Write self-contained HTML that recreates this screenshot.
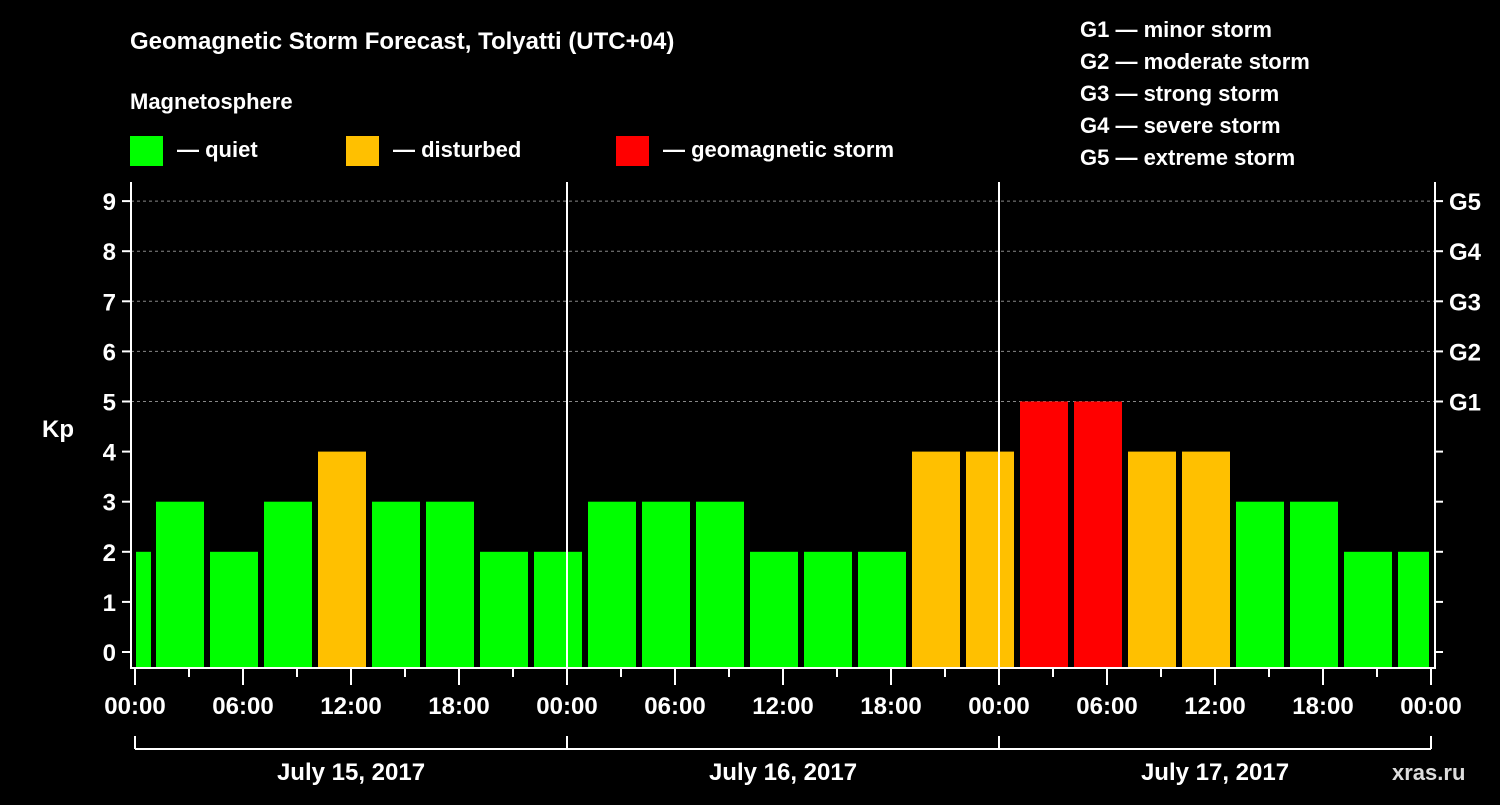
<!DOCTYPE html>
<html><head><meta charset="utf-8"><style>
body{margin:0;background:#000;width:1500px;height:800px;overflow:hidden}
svg text{font-family:"Liberation Sans",Arial,sans-serif;font-weight:bold;fill:#fff}
</style></head><body>
<svg id="chart" width="1500" height="800" viewBox="0 0 1500 800" xmlns="http://www.w3.org/2000/svg">
<rect width="1500" height="800" fill="#000"/>
<text x="130" y="49" font-size="24">Geomagnetic Storm Forecast, Tolyatti (UTC+04)</text>
<text x="130" y="109" font-size="22">Magnetosphere</text>
<g><rect x="130" y="136" width="33" height="30" fill="#00ff00"/><text x="177" y="157" font-size="22">— quiet</text></g>
<g><rect x="346" y="136" width="33" height="30" fill="#ffc000"/><text x="393" y="157" font-size="22">— disturbed</text></g>
<g><rect x="616" y="136" width="33" height="30" fill="#ff0000"/><text x="663" y="157" font-size="22">— geomagnetic storm</text></g>
<g font-size="22">
<text x="1080" y="37">G1 — minor storm</text>
<text x="1080" y="69">G2 — moderate storm</text>
<text x="1080" y="101">G3 — strong storm</text>
<text x="1080" y="133">G4 — severe storm</text>
<text x="1080" y="165">G5 — extreme storm</text>
</g>
<g id="grid"></g><g id="bars"></g><g id="axes"></g>
<text x="1392" y="780" font-size="22" fill="#fff" style="fill:#ddd">xras.ru</text>
</svg>
<script>
const dates = ["July 15, 2017","July 16, 2017","July 17, 2017"];
const firstPartial = 2;
const kpValues = [3,2,3,4,3,3,2,2, 3,3,3,2,2,2,4,4, 5,5,4,4,3,3,2,2];
const yTicks = [0,1,2,3,4,5,6,7,8,9];
const gLabels = ["G1","G2","G3","G4","G5"];
const timeLabels = ["00:00","06:00","12:00","18:00"];

const NS="http://www.w3.org/2000/svg";
const X0=135, PXH=18, Y0=652, PXK=50.1, TOP=182, BOT=668, LEFT=131, RIGHT=1435;
const xh=h=>X0+h*PXH, yk=k=>Y0-k*PXK;
function mk(tag,attrs,parent,txt){const e=document.createElementNS(NS,tag);for(const k in attrs)e.setAttribute(k,attrs[k]);if(txt!==undefined)e.textContent=txt;parent.appendChild(e);return e;}
const grid=document.getElementById('grid'),bars=document.getElementById('bars'),axes=document.getElementById('axes');
function col(k){return k>=5?"#ff0000":k>=4?"#ffc000":"#00ff00";}
// grid lines for G levels
gLabels.forEach((g,i)=>{const l=mk('line',{x1:LEFT,x2:RIGHT,y1:yk(5+i),y2:yk(5+i),stroke:'#888','stroke-dasharray':'3,3'},grid);

});
// bars
let r=mk('rect',{x:xh(0)+1,y:yk(firstPartial),width:15,height:BOT-yk(firstPartial),fill:col(firstPartial)},bars);


kpValues.forEach((k,i)=>{const s=xh(1+3*i)+3;let w=48;if(s+w>RIGHT-6)w=RIGHT-6-s;
const b=mk('rect',{x:s,y:yk(k),width:w,height:BOT-yk(k),fill:col(k)},bars);

});
// frame & day separators
const f=mk('path',{d:`M${LEFT} ${TOP}V${BOT}H${RIGHT}V${TOP}`,stroke:'#fff','stroke-width':2,fill:'none'},axes);


[1,2].forEach(d=>{const l=mk('line',{x1:xh(24*d),x2:xh(24*d),y1:TOP,y2:BOT,stroke:'#fff','stroke-width':2},axes);

});
// y ticks
yTicks.forEach(k=>{mk('line',{x1:LEFT-9,x2:LEFT,y1:yk(k),y2:yk(k),stroke:'#fff','stroke-width':2},axes);
const t=mk('text',{x:116,y:yk(k)+9,'font-size':24,'text-anchor':'end'},axes,String(k));


mk('line',{x1:RIGHT,x2:RIGHT+8,y1:yk(k),y2:yk(k),stroke:'#fff','stroke-width':2},axes);});
gLabels.forEach((g,i)=>{const t=mk('text',{x:1449,y:yk(5+i)+9,'font-size':24},axes,g);

});
const kp=mk('text',{x:42,y:437,'font-size':24},axes,'Kp');


// x ticks
for(let h=0;h<=72;h+=3){const major=h%6===0;mk('line',{x1:xh(h),x2:xh(h),y1:BOT,y2:major?BOT+17:BOT+9,stroke:'#fff','stroke-width':2},axes);}
for(let h=0;h<=72;h+=6){const t=mk('text',{x:xh(h),y:714,'font-size':24,'text-anchor':'middle'},axes,h===72?"00:00":timeLabels[(h%24)/6]);

}
// date brackets
mk('line',{x1:xh(0),x2:xh(72),y1:749,y2:749,stroke:'#fff','stroke-width':2},axes);
for(let d=0;d<=3;d++)mk('line',{x1:xh(24*d),x2:xh(24*d),y1:736,y2:749,stroke:'#fff','stroke-width':2},axes);
dates.forEach((d,i)=>{const t=mk('text',{x:xh(24*i+12),y:780,'font-size':24,'text-anchor':'middle'},axes,d);

});
</script>
</body></html>
